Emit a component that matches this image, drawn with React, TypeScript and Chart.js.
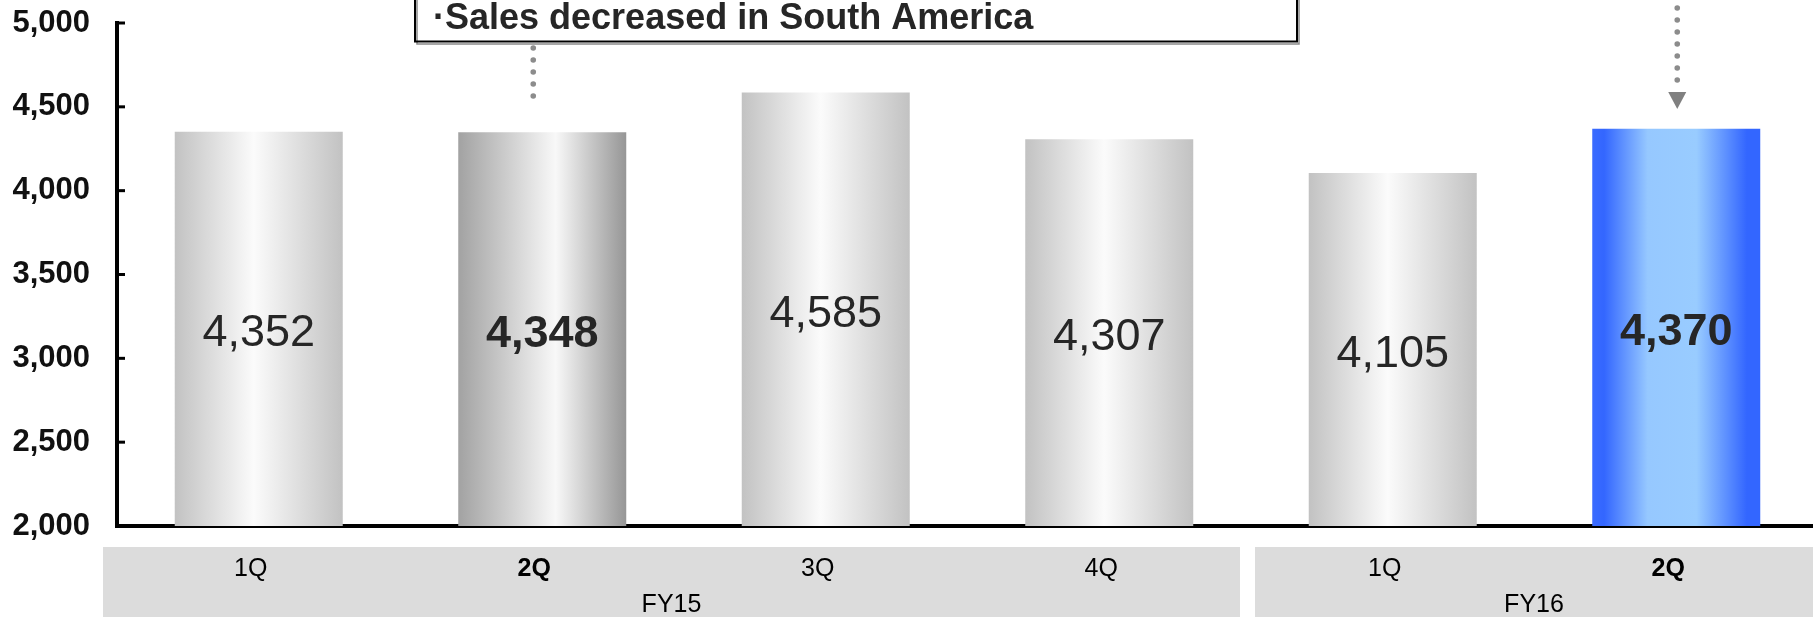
import React, { useEffect, useRef } from 'react';
import { Chart, registerables } from 'chart.js';

Chart.register(...registerables);

// ---- data ----
const quarterLabels = ['1Q', '2Q', '3Q', '4Q', '1Q', '2Q'];
const fiscalYears = ['FY15', 'FY16'];
const fiscalYearSpans = [4, 2];
const salesValues = [4352, 4348, 4585, 4307, 4105, 4370];
const currentIdx = 5;
const compareIdx = 1;
const yMin = 2000;
const yMax = 5000;
const yStep = 500;
const annotationText = '·Sales decreased in South America';

// ---- layout / style ----
const FONT = '"Liberation Sans", Arial, Helvetica, sans-serif';
const W = 1830;
const H = 617;
const AXIS_LEFT = 117;
const PLOT_RIGHT = 1818;
const PLOT_TOP = 23;
const PLOT_BOTTOM = 526;
const BAR_PCT = 0.5926;

const isBold = (i: number) => i === currentIdx || i === compareIdx;

const barFill = (ctx: any) => {
  const chart = ctx.chart;
  const xs = chart.scales && chart.scales.x;
  const i = ctx.dataIndex;
  if (i === undefined || !xs || !chart.chartArea) return '#c0c0c0';
  const cw = (xs.right - xs.left) / quarterLabels.length;
  const bw = cw * BAR_PCT;
  const cx = xs.getPixelForValue(i);
  const g = chart.ctx.createLinearGradient(cx - bw / 2, 0, cx + bw / 2, 0);
  if (i === currentIdx) {
    g.addColorStop(0, '#3a6bff');
    g.addColorStop(0.07, '#3366ff');
    g.addColorStop(0.33, '#96c8ff');
    g.addColorStop(0.62, '#99ccff');
    g.addColorStop(0.92, '#3366ff');
    g.addColorStop(1, '#3366ff');
  } else if (i === compareIdx) {
    g.addColorStop(0, '#a2a2a2');
    g.addColorStop(0.58, '#f8f8f8');
    g.addColorStop(1, '#969696');
  } else {
    g.addColorStop(0, '#c2c2c2');
    g.addColorStop(0.47, '#fbfbfb');
    g.addColorStop(1, '#c2c2c2');
  }
  return g;
};

const decorPlugin = {
  id: 'decor',
  beforeDraw(chart: any) {
    const { ctx } = chart;
    const xs = chart.scales.x;
    ctx.save();
    ctx.fillStyle = '#ffffff';
    ctx.fillRect(0, 0, chart.width, chart.height);
    // fiscal year bands
    const cw = (xs.right - xs.left) / quarterLabels.length;
    let start = 0;
    const bands: { l: number; r: number }[] = [];
    fiscalYearSpans.forEach((span, k) => {
      const l = k === 0 ? xs.left - 14 : bands[k - 1].r + 15;
      const r = k === fiscalYearSpans.length - 1 ? chart.width : xs.left + (start + span) * cw - 11;
      bands.push({ l, r });
      start += span;
    });
    ctx.fillStyle = '#dcdcdc';
    bands.forEach((b) => ctx.fillRect(b.l, 547, b.r - b.l, chart.height - 547));
    ctx.fillStyle = '#000000';
    ctx.font = `25px ${FONT}`;
    ctx.textAlign = 'center';
    ctx.textBaseline = 'middle';
    bands.forEach((b, k) => {
      const r = Math.min(b.r, 1813);
      ctx.fillText(fiscalYears[k], (b.l + r) / 2, 605);
    });
    ctx.restore();
  },
  afterDatasetsDraw(chart: any) {
    const { ctx } = chart;
    const meta = chart.getDatasetMeta(0);
    const bottom = chart.scales.y.getPixelForValue(yMin);
    ctx.save();
    ctx.fillStyle = '#262626';
    ctx.textAlign = 'center';
    ctx.textBaseline = 'middle';
    meta.data.forEach((el: any, i: number) => {
      ctx.font = `${isBold(i) ? 'bold ' : ''}45px ${FONT}`;
      const v = salesValues[i].toLocaleString('en-US');
      ctx.fillText(v, el.x, (el.y + bottom) / 2 + 5);
    });
    ctx.restore();
  },
  afterDraw(chart: any) {
    const { ctx } = chart;
    const xs = chart.scales.x;
    const ys = chart.scales.y;
    ctx.save();
    // inside ticks on y axis
    ctx.strokeStyle = '#000000';
    ctx.lineWidth = 3;
    for (let v = yMin + yStep; v <= yMax; v += yStep) {
      const y = ys.getPixelForValue(v);
      ctx.beginPath();
      ctx.moveTo(xs.left, y);
      ctx.lineTo(xs.left + 8, y);
      ctx.stroke();
    }
    // annotation box
    ctx.strokeStyle = '#8a8a8a';
    ctx.lineWidth = 1.5;
    ctx.strokeRect(417, -10, 882, 54);
    ctx.strokeStyle = '#000000';
    ctx.lineWidth = 2;
    ctx.strokeRect(415, -10, 882, 51.5);
    ctx.fillStyle = '#262626';
    ctx.font = `bold 36px ${FONT}`;
    ctx.textAlign = 'left';
    ctx.textBaseline = 'alphabetic';
    ctx.fillText(annotationText, 433, 29);
    // dotted connector from box
    ctx.fillStyle = '#8c8c8c';
    const lx = xs.getPixelForValue(compareIdx) - 9;
    for (let y = 48; y <= 96; y += 12) {
      ctx.beginPath();
      ctx.arc(lx, y, 2.8, 0, Math.PI * 2);
      ctx.fill();
    }
    // dotted arrow to current bar
    const rx = xs.getPixelForValue(currentIdx) + 1;
    for (let y = -4; y <= 80; y += 12) {
      ctx.beginPath();
      ctx.arc(rx, y, 2.8, 0, Math.PI * 2);
      ctx.fill();
    }
    ctx.fillStyle = '#808080';
    ctx.beginPath();
    ctx.moveTo(rx - 9, 92);
    ctx.lineTo(rx + 9, 92);
    ctx.lineTo(rx, 109);
    ctx.closePath();
    ctx.fill();
    ctx.restore();
  },
};

export default function App() {
  const ref = useRef<HTMLCanvasElement | null>(null);
  useEffect(() => {
    document.body.style.overflow = 'hidden';
    const canvas = ref.current;
    if (!canvas) return;
    const chart = new Chart(canvas, {
      type: 'bar',
      data: {
        labels: quarterLabels,
        datasets: [
          {
            data: salesValues,
            backgroundColor: barFill,
            borderWidth: 0,
            categoryPercentage: 1,
            barPercentage: BAR_PCT,
          },
        ],
      },
      options: {
        responsive: false,
        animation: false,
        devicePixelRatio: 1,
        layout: { padding: { top: PLOT_TOP, left: 0, right: W - PLOT_RIGHT, bottom: 0 } },
        plugins: {
          legend: { display: false },
          tooltip: { enabled: false },
          title: { display: false },
        },
        scales: {
          x: {
            grid: { display: false, drawTicks: false },
            border: { display: true, color: '#000000', width: 4 },
            ticks: {
              padding: 28,
              labelOffset: -8,
              color: '#000000',
              maxRotation: 0,
              autoSkip: false,
              font: (c: any) => ({ size: 25, family: FONT, weight: isBold(c.index) ? 'bold' : 'normal' }),
            },
            afterFit: (s: any) => {
              s.height = H - PLOT_BOTTOM;
              s.paddingLeft = 0;
              s.paddingRight = 0;
            },
          },
          y: {
            min: yMin,
            max: yMax,
            grid: { display: false, drawTicks: false },
            border: { display: true, color: '#000000', width: 4 },
            ticks: {
              stepSize: yStep,
              padding: 27,
              color: '#111111',
              font: { size: 31, weight: 'bold', family: FONT },
              callback: (v: any) => Number(v).toLocaleString('en-US'),
            },
            afterFit: (s: any) => {
              s.width = AXIS_LEFT;
              s.paddingTop = 0;
              s.paddingBottom = 0;
            },
          },
        },
      },
      plugins: [decorPlugin],
    });
    return () => chart.destroy();
  }, []);
  return (
    <div style={{ position: 'fixed', left: 0, top: 0, width: W, height: H }}>
      <canvas ref={ref} width={W} height={H} style={{ display: 'block', width: W, height: H }} />
    </div>
  );
}
